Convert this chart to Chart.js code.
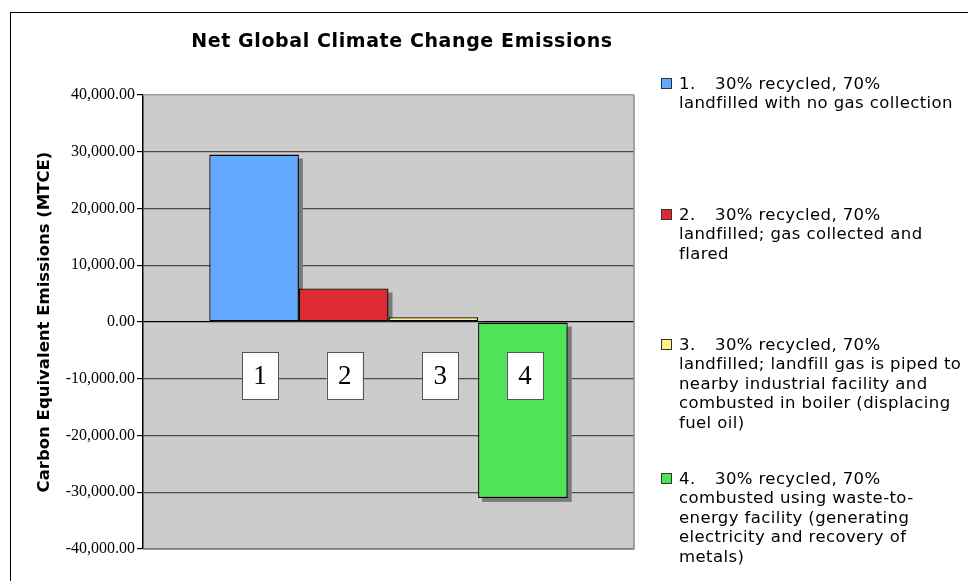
<!DOCTYPE html>
<html>
<head>
<meta charset="utf-8">
<script src="https://cdn.jsdelivr.net/npm/chart.js@4.4.1/dist/chart.umd.min.js"></script>
<style>
  html, body { margin: 0; padding: 0; background: #fff; }
  #wrap { position: relative; width: 968px; height: 581px; overflow: hidden; }
  #frame { position: absolute; left: 10px; top: 12px; width: 1000px; height: 600px; border: 1px solid #000; }
  #grafico { position: absolute; left: 0; top: 0; }
  #titulo { position: absolute; left: 0; top: 29px; width: 804px; text-align: center; letter-spacing: 0.6px;
    font: bold 19px "DejaVu Sans", Verdana, sans-serif; color: #000; }
  .item { position: absolute; left: 661px; font: 16.5px "DejaVu Sans", Verdana, sans-serif; letter-spacing: 0.4px; line-height: 19.4px; color: #000; }
  .item .caixa { position: absolute; left: 0; top: 4px; width: 11px; height: 11px; border: 1px solid #333; box-sizing: border-box; }
  .item .texto { margin-left: 18px; white-space: nowrap; }
  .item .num { display: inline-block; width: 36px; }
</style>
</head>
<body>
<div id="wrap">
  <div id="frame"></div>
  <canvas id="grafico" width="968" height="581"></canvas>
  <div id="titulo">Net Global Climate Change Emissions</div>
  <div id="legenda"></div>
</div>
<script>
const cenarios = ["1", "2", "3", "4"];
const emissoes = [29500, 5900, 850, -31000];
const cores = ["#63a8ff", "#de2a33", "#fff08a", "#4fe35a"];
const legendaLinhas = [
  ["30% recycled, 70%", "landfilled with no gas collection"],
  ["30% recycled, 70%", "landfilled; gas collected and", "flared"],
  ["30% recycled, 70%", "landfilled; landfill gas is piped to", "nearby industrial facility and", "combusted in boiler (displacing", "fuel oil)"],
  ["30% recycled, 70%", "combusted using waste-to-", "energy facility (generating", "electricity and recovery of", "metals)"]
];
const eixoMin = -40000;
const eixoMax = 40000;
const passo = 10000;
const valorEtiqueta = -9500;

// onde ficam as coisas na página
const legendaTopo = [74, 205, 335, 469];
const desvioEtiqueta = [6, 1, 7, 2];

function formatarNumero(v) {
  return v.toLocaleString("en-US", { minimumFractionDigits: 2, maximumFractionDigits: 2 });
}

const fundoPlot = {
  id: "fundoPlot",
  beforeDraw(chart) {
    const { ctx, chartArea: a } = chart;
    ctx.save();
    ctx.fillStyle = "#cccccc";
    ctx.fillRect(a.left, a.top, a.right - a.left, a.bottom - a.top);
    ctx.restore();
  },
  afterDraw(chart) {
    const { ctx, chartArea: a } = chart;
    ctx.save();
    ctx.lineWidth = 1.5;
    ctx.strokeStyle = "#b8b8b8";
    ctx.beginPath();
    ctx.moveTo(a.left, a.top);
    ctx.lineTo(a.right, a.top);
    ctx.stroke();
    ctx.strokeStyle = "#8a8a8a";
    ctx.beginPath();
    ctx.moveTo(a.right, a.top);
    ctx.lineTo(a.right, a.bottom);
    ctx.lineTo(a.left, a.bottom);
    ctx.stroke();
    ctx.restore();
  }
};

const sombraBarras = {
  id: "sombraBarras",
  beforeDatasetsDraw(chart) {
    const ctx = chart.ctx;
    ctx.save();
    ctx.fillStyle = "#7a7a7a";
    chart.data.datasets.forEach((ds, i) => {
      chart.getDatasetMeta(i).data.forEach((bar) => {
        const { x, y, base, width } = bar.getProps(["x", "y", "base", "width"], true);
        const esq = x - width / 2 + 4;
        if (y < base) {
          ctx.fillRect(esq, y + 4, width, base - y - 4);
        } else {
          ctx.fillRect(esq, base + 4, width, y - base);
        }
      });
    });
    ctx.restore();
  }
};

const etiquetas = {
  id: "etiquetas",
  afterDatasetsDraw(chart) {
    const ctx = chart.ctx;
    const yPix = chart.scales.y.getPixelForValue(valorEtiqueta);
    ctx.save();
    chart.data.datasets.forEach((ds, i) => {
      const bar = chart.getDatasetMeta(i).data[0];
      const x = bar.getProps(["x"], true).x + desvioEtiqueta[i];
      ctx.fillStyle = "#fff";
      ctx.fillRect(x - 18, yPix - 23.5, 36, 47);
      ctx.strokeStyle = "#555";
      ctx.lineWidth = 1;
      ctx.strokeRect(Math.round(x - 18) + 0.5, Math.round(yPix - 23.5) + 0.5, 36, 47);
      ctx.fillStyle = "#000";
      ctx.font = '27px "Liberation Serif", "Times New Roman", serif';
      ctx.textAlign = "center";
      ctx.textBaseline = "middle";
      ctx.fillText(cenarios[i], x, yPix + 1);
    });
    ctx.restore();
  }
};

new Chart(document.getElementById("grafico"), {
  type: "bar",
  data: {
    labels: [""],
    datasets: cenarios.map((c, i) => ({
      label: c + ". " + legendaLinhas[i].join(" "),
      data: [emissoes[i]],
      backgroundColor: cores[i],
      borderColor: "#000",
      borderWidth: 1.3,
      borderSkipped: false,
      categoryPercentage: 0.73,
      barPercentage: 1
    }))
  },
  options: {
    responsive: false,
    animation: false,
    layout: { padding: { left: 10, top: 95, right: 334, bottom: 32 } },
    plugins: { legend: { display: false }, title: { display: false }, tooltip: { enabled: false } },
    scales: {
      x: { display: false, grid: { display: false } },
      y: {
        min: eixoMin,
        max: eixoMax,
        afterFit(scale) { scale.width = 133; },
        ticks: {
          stepSize: passo,
          padding: 2,
          color: "#000",
          font: { family: '"Liberation Serif", "Times New Roman", serif', size: 16 },
          callback: (v) => formatarNumero(v)
        },
        grid: {
          color: (c) => (c.tick && c.tick.value === 0 ? "#000" : "#4a4a4a"),
          lineWidth: 1.2,
          tickLength: 6,
          tickColor: "#000"
        },
        border: { display: true, color: "#000", width: 1.5 },
        title: {
          display: true,
          text: "Carbon Equivalent Emissions (MTCE)",
          color: "#000",
          font: { family: '"DejaVu Sans", Verdana, sans-serif', size: 16.5, weight: "bold" },
          padding: { top: 25, bottom: 0 }
        }
      }
    }
  },
  plugins: [fundoPlot, sombraBarras, etiquetas]
});

const legenda = document.getElementById("legenda");
legendaLinhas.forEach((linhas, i) => {
  const item = document.createElement("div");
  item.className = "item";
  item.style.top = legendaTopo[i] + "px";
  item.innerHTML = `<span class="caixa" style="background:${cores[i]}"></span>
    <div class="texto"><span class="num">${cenarios[i]}.</span>${linhas[0]}${linhas.slice(1).map((l) => "<br>" + l).join("")}</div>`;
  legenda.appendChild(item);
});
</script>
</body>
</html>
